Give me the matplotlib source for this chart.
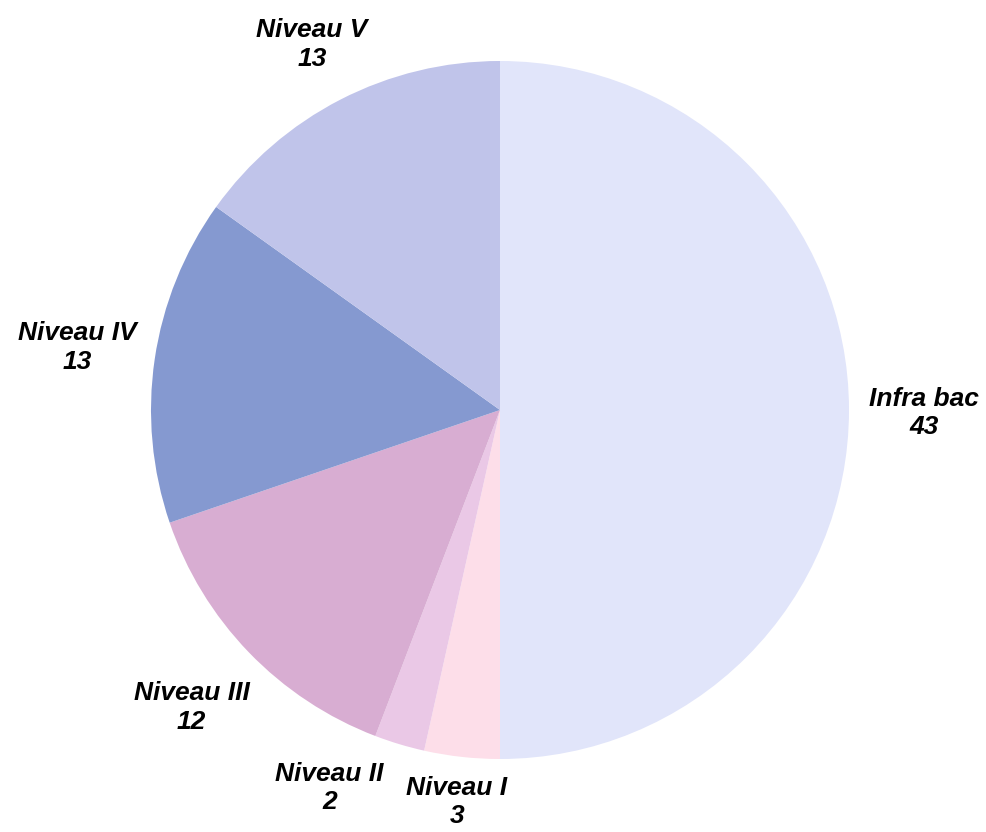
import numpy as np
import matplotlib.pyplot as plt

# data
labels = ["Infra bac", "Niveau I", "Niveau II", "Niveau III", "Niveau IV", "Niveau V"]
values = [43, 3, 2, 12, 13, 13]
colors = ["#E1E5FA", "#FDDEE9", "#EAC8E6", "#D8ADD2", "#8599D0", "#C0C4EA"]

# label placement (distance in radii, angle tweak in degrees)
label_dist = [1.215, 1.13, 1.188, 1.228, 1.225, 1.178]
label_shift = [-0.4, 0, -7.5, 0, 0, 0]

fig = plt.figure(figsize=(9.86, 8.32), dpi=100)
ax = fig.add_axes([0, 0, 1, 1])

cx, cy, r = 500, 422, 349
wedges, _ = ax.pie(values, colors=colors, startangle=90, counterclock=False,
                   radius=r, center=(cx, cy), frame=True,
                   wedgeprops=dict(linewidth=0))
ax.set_xlim(0, 986)
ax.set_ylim(0, 832)
ax.set_aspect("equal")
ax.axis("off")

for w, lab, v, d, s in zip(wedges, labels, values, label_dist, label_shift):
    ang = np.deg2rad((w.theta1 + w.theta2) / 2 + s)
    x = cx + d * r * np.cos(ang)
    y = cy + d * r * np.sin(ang)
    ax.text(x, y, "%s\n%d" % (lab, v), ha="center", va="center",
            fontsize=19, fontweight="bold", fontstyle="italic",
            family="Liberation Sans", linespacing=1.25)

fig.savefig("out.png", dpi=100)
